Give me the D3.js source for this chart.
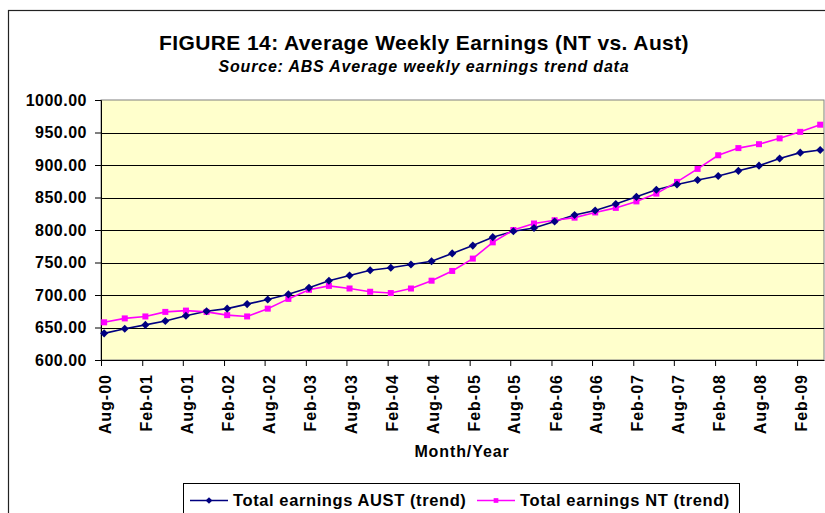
<!DOCTYPE html>
<html lang="en">

<head>
    <meta charset="UTF-8">
    <title>FIGURE 14: Average Weekly Earnings (NT vs. Aust)</title>
    <script src="https://d3js.org/d3.v7.min.js"></script>
    <style>
        body {
            margin: 0;
            background-color: #fff;
            font-family: Arial, "Liberation Sans", sans-serif;
        }

        svg text {
            font-weight: bold;
            fill: #000;
        }
    </style>
</head>

<body>
    <svg id="chart" width="825" height="513"></svg>

    <script>
        // quarterly periods (trend series)
        const periods = [
            'Aug-00', 'Nov-00', 'Feb-01', 'May-01', 'Aug-01', 'Nov-01',
            'Feb-02', 'May-02', 'Aug-02', 'Nov-02', 'Feb-03', 'May-03',
            'Aug-03', 'Nov-03', 'Feb-04', 'May-04', 'Aug-04', 'Nov-04',
            'Feb-05', 'May-05', 'Aug-05', 'Nov-05', 'Feb-06', 'May-06',
            'Aug-06', 'Nov-06', 'Feb-07', 'May-07', 'Aug-07', 'Nov-07',
            'Feb-08', 'May-08', 'Aug-08', 'Nov-08', 'Feb-09', 'May-09'
        ];

        const austEarnings = [
            641, 648, 654, 660, 668, 675, 679, 686, 693, 701, 711, 722,
            730, 738, 742, 747, 752, 764, 776, 789, 798, 803, 813, 823,
            830, 840, 851, 862, 870, 877, 883, 891, 899, 910, 919, 923
        ];

        const ntEarnings = [
            658, 664, 667, 674, 676, 674, 669, 667, 679, 694, 708, 714,
            710, 705, 703, 710, 722, 737, 756, 781, 800, 810, 815, 819,
            827, 834, 844, 856, 874, 894, 915, 926, 932, 941, 951, 962
        ];

        const tickLabels = [
            'Aug-00', 'Feb-01', 'Aug-01', 'Feb-02', 'Aug-02', 'Feb-03',
            'Aug-03', 'Feb-04', 'Aug-04', 'Feb-05', 'Aug-05', 'Feb-06',
            'Aug-06', 'Feb-07', 'Aug-07', 'Feb-08', 'Aug-08', 'Feb-09'
        ];

        const yTicks = [600, 650, 700, 750, 800, 850, 900, 950, 1000];

        const seriesNames = ['Total earnings AUST (trend)', 'Total earnings NT (trend)'];

        const svg = d3.select('#chart');
        const fontFamily = 'Arial, "Liberation Sans", sans-serif';
        const parseMonth = d3.timeParse('%b-%y');
        // points sit mid-month on the date axis
        const pointDate = p => d3.timeDay.offset(parseMonth(p), 14);

        const plot = { left: 101, top: 100, right: 824, bottom: 360 };

        const x = d3.scaleTime()
            .domain([parseMonth('Aug-00'), parseMonth('Jun-09')])
            .range([plot.left, plot.right]);

        const y = d3.scaleLinear()
            .domain([600, 1000])
            .range([plot.bottom, plot.top]);

        // outer chart frame
        svg.append('rect')
            .attr('x', 8.5).attr('y', 10.5)
            .attr('width', 840).attr('height', 540)
            .attr('fill', 'none')
            .attr('stroke', '#222')
            .attr('stroke-width', 1.2);

        // titles
        svg.append('text')
            .attr('x', 424).attr('y', 50)
            .attr('text-anchor', 'middle')
            .style('font-size', '21px')
            .style('letter-spacing', '0.4px')
            .text('FIGURE 14: Average Weekly Earnings (NT vs. Aust)');

        svg.append('text')
            .attr('x', 424).attr('y', 72)
            .attr('text-anchor', 'middle')
            .style('font-size', '16px')
            .style('font-style', 'italic')
            .style('letter-spacing', '0.8px')
            .text('Source: ABS Average weekly earnings trend data');

        // plot background
        svg.append('rect')
            .attr('x', plot.left).attr('y', plot.top)
            .attr('width', plot.right - plot.left)
            .attr('height', plot.bottom - plot.top)
            .attr('fill', '#ffffcc')
            .attr('stroke', '#808080')
            .attr('stroke-width', 1);

        // gridlines
        svg.append('g')
            .selectAll('line')
            .data(yTicks.slice(1, -1))
            .enter()
            .append('line')
            .attr('x1', plot.left).attr('x2', plot.right)
            .attr('y1', d => Math.round(y(d)) + 0.5)
            .attr('y2', d => Math.round(y(d)) + 0.5)
            .attr('stroke', '#000')
            .attr('stroke-width', 1);

        // y axis
        const yAxis = svg.append('g')
            .attr('transform', `translate(${plot.left},0)`)
            .call(d3.axisLeft(y).tickValues(yTicks).tickFormat(d3.format('.2f')).tickSize(6).tickPadding(8));
        yAxis.select('.domain').attr('stroke', '#000');
        yAxis.selectAll('text')
            .style('font-size', '16px')
            .style('letter-spacing', '0.5px')
            .style('font-family', fontFamily);

        // x axis
        const xAxis = svg.append('g')
            .attr('transform', `translate(0,${plot.bottom})`)
            .call(d3.axisBottom(x)
                .tickValues(tickLabels.map(parseMonth))
                .tickFormat(d3.timeFormat('%b-%y'))
                .tickSize(6)
                .tickSizeOuter(0));
        xAxis.select('.domain').attr('stroke', '#000');
        xAxis.selectAll('text')
            .attr('transform', 'rotate(-90)')
            .attr('x', -14)
            .attr('y', 4)
            .attr('dy', '0.35em')
            .attr('text-anchor', 'end')
            .style('font-size', '16px')
            .style('letter-spacing', '1px')
            .style('font-family', fontFamily);

        svg.append('text')
            .attr('x', 462).attr('y', 457)
            .attr('text-anchor', 'middle')
            .style('font-size', '16px')
            .style('letter-spacing', '0.9px')
            .text('Month/Year');

        // series lines and markers
        const line = d3.line()
            .x((d, i) => x(pointDate(periods[i])))
            .y(d => y(d));

        svg.append('path')
            .datum(austEarnings)
            .attr('d', line)
            .attr('fill', 'none')
            .attr('stroke', '#000080')
            .attr('stroke-width', 1.6);

        svg.append('path')
            .datum(ntEarnings)
            .attr('d', line)
            .attr('fill', 'none')
            .attr('stroke', '#ff00ff')
            .attr('stroke-width', 1.6);

        const diamond = d3.symbol().type(d3.symbolDiamond2).size(42);
        const square = d3.symbol().type(d3.symbolSquare2).size(46);

        svg.append('g')
            .selectAll('path')
            .data(ntEarnings)
            .enter()
            .append('path')
            .attr('d', square)
            .attr('transform', (d, i) => `translate(${x(pointDate(periods[i]))},${y(d)})`)
            .attr('fill', '#ff00ff');

        svg.append('g')
            .selectAll('path')
            .data(austEarnings)
            .enter()
            .append('path')
            .attr('d', diamond)
            .attr('transform', (d, i) => `translate(${x(pointDate(periods[i]))},${y(d)})`)
            .attr('fill', '#000080');

        // legend
        const legend = svg.append('g');
        legend.append('rect')
            .attr('x', 183.5).attr('y', 483.5)
            .attr('width', 556).attr('height', 40)
            .attr('fill', '#fff')
            .attr('stroke', '#000')
            .attr('stroke-width', 1);

        const legendItems = [
            { name: seriesNames[0], color: '#000080', symbol: diamond, x0: 190 },
            { name: seriesNames[1], color: '#ff00ff', symbol: square, x0: 477 }
        ];

        legendItems.forEach(item => {
            legend.append('line')
                .attr('x1', item.x0).attr('x2', item.x0 + 38)
                .attr('y1', 500.5).attr('y2', 500.5)
                .attr('stroke', item.color)
                .attr('stroke-width', 1.6);
            legend.append('path')
                .attr('d', item.symbol.size(28)())
                .attr('transform', `translate(${item.x0 + 19},500.5)`)
                .attr('fill', item.color);
            legend.append('text')
                .attr('x', item.x0 + 43).attr('y', 506)
                .style('font-size', '16.5px')
                .style('letter-spacing', '0.6px')
                .text(item.name);
        });
    </script>
</body>

</html>
